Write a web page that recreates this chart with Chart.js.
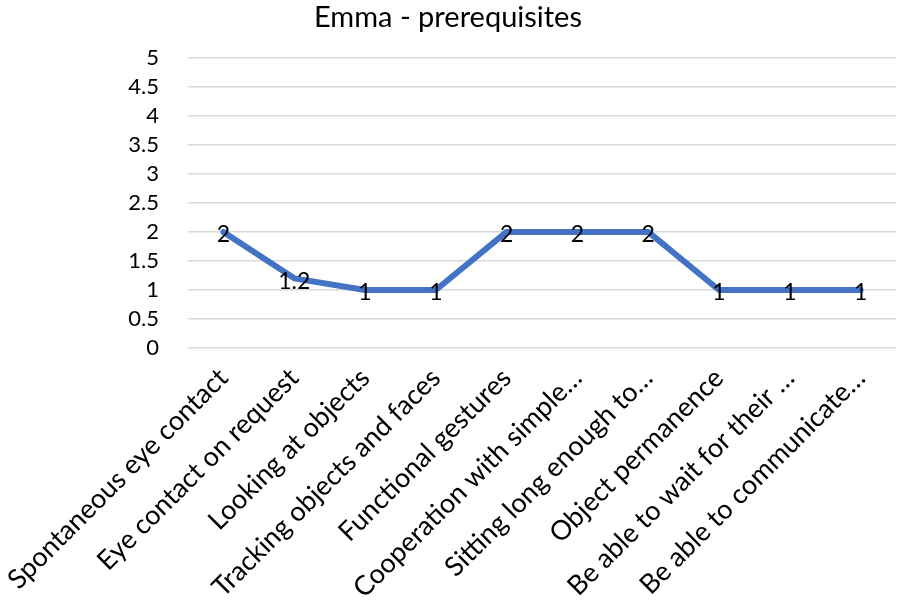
<!DOCTYPE html>
<html>
<head>
<meta charset="utf-8">
<script src="https://cdn.jsdelivr.net/npm/chart.js@4/dist/chart.umd.min.js"></script>
<style>
  html, body { margin: 0; padding: 0; background: #fff; }
  #wrap { width: 904px; height: 612px; }
</style>
</head>
<body>
<div id="wrap"><canvas id="chart" width="904" height="612"></canvas></div>
<script>
// Chart data
const skills = [
  'Spontaneous eye contact',
  'Eye contact on request',
  'Looking at objects',
  'Tracking objects and faces',
  'Functional gestures',
  'Cooperation with simple…',
  'Sitting long enough to…',
  'Object permanence',
  'Be able to wait for their …',
  'Be able to communicate…'
];
const scores = [2, 1.2, 1, 1, 2, 2, 2, 1, 1, 1];
const yMin = 0;
const yMax = 5;
const yStep = 0.5;

const FONT = 'Lato, "Open Sans", sans-serif';

// Draw the value of each point centred on the point
const pointLabels = {
  id: 'pointLabels',
  afterDatasetsDraw(chart) {
    const ctx = chart.ctx;
    const meta = chart.getDatasetMeta(0);
    ctx.save();
    ctx.font = '23px ' + FONT;
    ctx.fillStyle = '#000';
    ctx.textAlign = 'center';
    ctx.textBaseline = 'middle';
    meta.data.forEach((pt, i) => {
      ctx.fillText(String(scores[i]), pt.x, pt.y + 3);
    });
    ctx.restore();
  }
};

new Chart(document.getElementById('chart').getContext('2d'), {
  type: 'line',
  data: {
    labels: skills,
    datasets: [{
      label: 'Emma',
      data: scores,
      borderColor: '#4472C4',
      borderWidth: 6,
      borderCapStyle: 'round',
      borderJoinStyle: 'round',
      pointRadius: 0,
      tension: 0,
      fill: false
    }]
  },
  options: {
    responsive: false,
    animation: false,
    layout: { padding: { left: 0, right: 8, top: 0, bottom: 0 } },
    plugins: {
      legend: { display: false },
      tooltip: { enabled: false },
      title: {
        display: true,
        text: 'Emma - prerequisites',
        color: '#000',
        font: { family: FONT, size: 29, weight: 'normal' },
        padding: { top: 0, bottom: 23 }
      }
    },
    scales: {
      x: {
        offset: true,
        grid: { display: false },
        border: { display: false },
        ticks: {
          color: '#000',
          font: { family: FONT, size: 27 },
          minRotation: 45,
          maxRotation: 45,
          autoSkip: false,
          padding: 6
        },
        afterFit(scale) {
          scale.height = 264;
          scale.paddingLeft = 0;
          scale.paddingRight = 0;
        }
      },
      y: {
        min: yMin,
        max: yMax,
        grid: { color: '#D9D9D9', lineWidth: 1.5, drawTicks: false },
        border: { display: false },
        ticks: {
          stepSize: yStep,
          autoSkip: false,
          color: '#000',
          font: { family: FONT, size: 22 },
          padding: 29,
          callback: (v) => String(v)
        },
        afterFit(scale) {
          scale.width = 188;
          scale.paddingTop = 0;
          scale.paddingBottom = 0;
        }
      }
    }
  },
  plugins: [pointLabels]
});
</script>
</body>
</html>
